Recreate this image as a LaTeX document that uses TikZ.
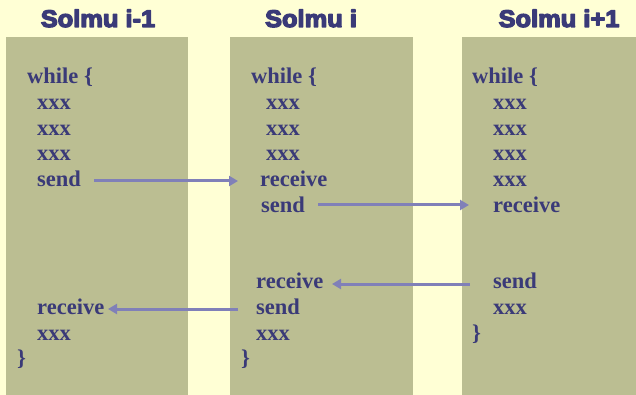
\documentclass[tikz,border=0pt]{standalone}
\usepackage{fontspec}
\usetikzlibrary{arrows.meta}
\newfontfamily\headfont[BoldFeatures={FakeStretch=1.06}]{Liberation Sans}
\newfontfamily\codefont{Liberation Serif}
% heavier header lettering: fill and stroke the glyph outlines
\newcommand\heavytext[1]{\special{pdf:literal direct 2 Tr 1.3 w 1 j}#1\special{pdf:literal direct 0 Tr}}
\definecolor{paper}{RGB}{255,255,213}
\definecolor{lane}{RGB}{187,190,146}
\definecolor{ink}{RGB}{58,58,120}
\definecolor{msg}{RGB}{128,128,184}
\tikzset{
  lanebox/.style={fill=lane, draw=none},
  header/.style={font=\headfont\bfseries\fontsize{24}{24}\selectfont, text=ink, anchor=base, inner sep=0pt},
  code/.style={font=\codefont\bfseries\fontsize{22.5}{22.5}\selectfont, text=ink, anchor=base west, inner sep=0pt},
  msgarrow/.style={draw=msg, line width=3pt, -{Triangle[length=9pt,width=10pt]}}
}
\begin{document}
\begin{tikzpicture}[x=1pt,y=-1pt]
  \fill[paper] (0,0) rectangle (636,395);
  \useasboundingbox (0,0) rectangle (636,395);

  % lanes
  \fill[lanebox] (6,37) rectangle (188,395);
  \fill[lanebox] (230,37) rectangle (413,395);
  \fill[lanebox] (462,37) rectangle (636,395);

  % headers
  \node[header] (h1) at (98,27) {\heavytext{Solmu i-1}};
  \node[header] (h2) at (311,27) {\heavytext{Solmu i}};
  \node[header] (h3) at (559,27) {\heavytext{Solmu i+1}};

  % lane i-1
  \node[code] (a0) at (27,84) {while \{};
  \node[code] (a1) at (37,109.6) {xxx};
  \node[code] (a2) at (37,135.2) {xxx};
  \node[code] (a3) at (37,160.8) {xxx};
  \node[code] (a4) at (37,186.4) {send};
  \node[code] (a5) at (37,314.4) {receive};
  \node[code] (a6) at (37,340) {xxx};
  \node[code] (a7) at (17,365.6) {\}};

  % lane i
  \node[code] (b0) at (251,84) {while \{};
  \node[code] (b1) at (266,109.6) {xxx};
  \node[code] (b2) at (266,135.2) {xxx};
  \node[code] (b3) at (266,160.8) {xxx};
  \node[code] (b4) at (260,186.4) {receive};
  \node[code] (b5) at (261,212) {send};
  \node[code] (b6) at (256,288.8) {receive};
  \node[code] (b7) at (256,314.4) {send};
  \node[code] (b8) at (256,340) {xxx};
  \node[code] (b9) at (241,365.6) {\}};

  % lane i+1
  \node[code] (c0) at (472,84) {while \{};
  \node[code] (c1) at (493,109.6) {xxx};
  \node[code] (c2) at (493,135.2) {xxx};
  \node[code] (c3) at (493,160.8) {xxx};
  \node[code] (c4) at (493,186.4) {xxx};
  \node[code] (c5) at (493,212) {receive};
  \node[code] (c6) at (493,288.8) {send};
  \node[code] (c7) at (493,314.4) {xxx};
  \node[code] (c8) at (472,340) {\}};

  % message endpoints
  \coordinate (s1) at (94,181);
  \coordinate (r1) at (238,181);
  \coordinate (s2) at (318,205);
  \coordinate (r2) at (469,205);
  \coordinate (s3) at (470,284);
  \coordinate (r3) at (332,284);
  \coordinate (s4) at (238,309);
  \coordinate (r4) at (108,309);

  \draw[msgarrow] (s1) -- (r1);
  \draw[msgarrow] (s2) -- (r2);
  \draw[msgarrow] (s3) -- (r3);
  \draw[msgarrow] (s4) -- (r4);
\end{tikzpicture}
\end{document}
